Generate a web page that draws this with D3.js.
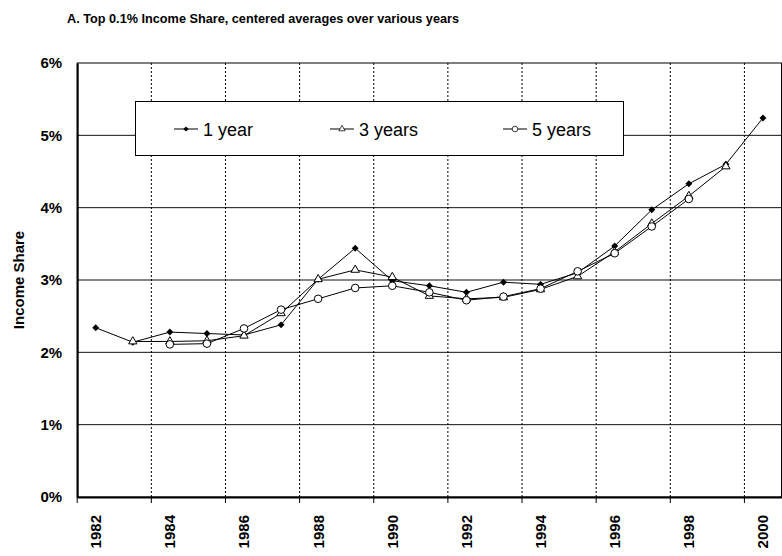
<!DOCTYPE html>
<html>
<head>
<meta charset="utf-8">
<script src="https://cdn.jsdelivr.net/npm/d3@7"></script>
<style>
  body { margin: 0; background: #fff; }
  svg { display: block; font-family: "Liberation Sans", Arial, sans-serif; }
</style>
</head>
<body>
<script>
// chart data
const years = [1982, 1983, 1984, 1985, 1986, 1987, 1988, 1989, 1990, 1991,
               1992, 1993, 1994, 1995, 1996, 1997, 1998, 1999, 2000];
const oneYear = [2.34, 2.14, 2.28, 2.26, 2.24, 2.38, 3.01, 3.44, 2.99, 2.92,
                 2.83, 2.97, 2.94, 3.10, 3.47, 3.97, 4.33, 4.60, 5.24];
const threeYears = [null, 2.15, 2.15, 2.16, 2.23, 2.54, 3.01, 3.14, 3.04, 2.78,
                    2.74, 2.76, 2.87, 3.05, 3.39, 3.78, 4.16, 4.57, null];
const fiveYears = [null, null, 2.11, 2.12, 2.33, 2.59, 2.74, 2.89, 2.92, 2.83,
                   2.72, 2.77, 2.88, 3.12, 3.37, 3.74, 4.12, null, null];
const seriesNames = ["1 year", "3 years", "5 years"];
const yTicks = [0, 1, 2, 3, 4, 5, 6];
const xLabelYears = [1982, 1984, 1986, 1988, 1990, 1992, 1994, 1996, 1998, 2000];
const title = "A. Top 0.1% Income Share, centered averages over various years";
const yTitle = "Income Share";

const width = 782, height = 556;
const margin = {top: 63, right: 0.5, bottom: 59, left: 77.2};

const svg = d3.select("body").append("svg")
    .attr("width", width)
    .attr("height", height);

const x = d3.scaleBand()
    .domain(years)
    .range([margin.left, width - margin.right])
    .padding(0);

const y = d3.scaleLinear()
    .domain([0, 6])
    .range([height - margin.bottom, margin.top]);

const cx = d => x(d) + x.bandwidth() / 2;

// horizontal grid
svg.append("g")
    .selectAll("line")
    .data(yTicks.filter(t => t > 0 && t < 6))
    .enter().append("line")
    .attr("x1", margin.left)
    .attr("x2", width - margin.right)
    .attr("y1", d => y(d))
    .attr("y2", d => y(d))
    .attr("stroke", "#111")
    .attr("stroke-width", 1);

// dotted vertical grid, between every two categories
const boundaries = xLabelYears.slice(1);
svg.append("g")
    .selectAll("line")
    .data(boundaries)
    .enter().append("line")
    .attr("x1", d => x(d))
    .attr("x2", d => x(d))
    .attr("y1", y(6))
    .attr("y2", y(0))
    .attr("stroke", "#000")
    .attr("stroke-width", 1)
    .attr("stroke-dasharray", "2,2");

// plot border
svg.append("rect")
    .attr("x", margin.left)
    .attr("y", y(6))
    .attr("width", width - margin.right - margin.left)
    .attr("height", y(0) - y(6))
    .attr("fill", "none")
    .attr("stroke", "#000")
    .attr("stroke-width", 1);

// x axis
const xAxis = svg.append("g")
    .attr("transform", `translate(0,${y(0)})`)
    .call(d3.axisBottom(x).tickValues(xLabelYears).tickSize(0).tickSizeOuter(0));
xAxis.select(".domain").attr("stroke", "#000").attr("stroke-width", 2);
xAxis.selectAll("text")
    .attr("transform", "rotate(-90)")
    .attr("text-anchor", "end")
    .attr("x", -18)
    .attr("y", 0)
    .attr("dy", "0.36em")
    .style("font-size", "15px")
    .style("font-weight", "bold")
    .style("font-family", "Liberation Sans, Arial, sans-serif")
    .attr("fill", "#000");

svg.append("g")
    .selectAll("line")
    .data([years[0]].concat(boundaries))
    .enter().append("line")
    .attr("x1", d => x(d))
    .attr("x2", d => x(d))
    .attr("y1", y(0))
    .attr("y2", y(0) + 6)
    .attr("stroke", "#000")
    .attr("stroke-width", 1);

// y axis
const yAxis = svg.append("g")
    .attr("transform", `translate(${margin.left},0)`)
    .call(d3.axisLeft(y).tickValues(yTicks).tickFormat(d => d + "%").tickSize(0).tickPadding(15));
yAxis.select(".domain").attr("stroke", "#000").attr("stroke-width", 2);
yAxis.selectAll("text")
    .style("font-size", "15px")
    .style("font-weight", "bold")
    .style("font-family", "Liberation Sans, Arial, sans-serif")
    .attr("fill", "#000");

svg.append("text")
    .attr("transform", `translate(19,${(y(0) + y(6)) / 2}) rotate(-90)`)
    .attr("text-anchor", "middle")
    .attr("dy", "0.36em")
    .style("font-size", "15px")
    .style("font-weight", "bold")
    .text(yTitle);

svg.append("text")
    .attr("x", 67)
    .attr("y", 23)
    .attr("textLength", 392)
    .attr("lengthAdjust", "spacingAndGlyphs")
    .style("font-size", "13.5px")
    .style("font-weight", "bold")
    .text(title);

// series
const series = [
  {name: seriesNames[0], values: oneYear, marker: "diamond"},
  {name: seriesNames[1], values: threeYears, marker: "triangle"},
  {name: seriesNames[2], values: fiveYears, marker: "circle"}
];

function drawMarker(g, kind) {
  if (kind === "diamond") {
    g.append("path")
        .attr("d", d3.symbol().type(d3.symbolSquare).size(24)())
        .attr("transform", "rotate(45)")
        .attr("fill", "#000");
  } else if (kind === "triangle") {
    g.append("path")
        .attr("d", d3.symbol().type(d3.symbolTriangle).size(30)())
        .attr("fill", "#fff")
        .attr("stroke", "#000")
        .attr("stroke-width", 1);
  } else {
    g.append("circle")
        .attr("r", 3.8)
        .attr("fill", "#fff")
        .attr("stroke", "#000")
        .attr("stroke-width", 1);
  }
}

const line = d3.line()
    .defined(d => d.v != null)
    .x(d => cx(d.year))
    .y(d => y(d.v));

series.forEach(s => {
  const pts = years.map((yr, i) => ({year: yr, v: s.values[i]}));
  svg.append("path")
      .datum(pts)
      .attr("fill", "none")
      .attr("stroke", "#000")
      .attr("stroke-width", 1)
      .attr("d", line);

  svg.append("g")
      .selectAll("g")
      .data(pts.filter(d => d.v != null))
      .enter().append("g")
      .attr("transform", d => `translate(${cx(d.year)},${y(d.v)})`)
      .each(function() { drawMarker(d3.select(this), s.marker); });
});

// legend
const legendX = [174, 330, 503];
const legend = svg.append("g");
legend.append("rect")
    .attr("x", 135.5)
    .attr("y", 101.5)
    .attr("width", 488)
    .attr("height", 54)
    .attr("fill", "#fff")
    .attr("stroke", "#000")
    .attr("stroke-width", 1);

series.forEach((s, i) => {
  const item = legend.append("g").attr("transform", `translate(${legendX[i]},129)`);
  item.append("line")
      .attr("x1", 0).attr("x2", 24)
      .attr("stroke", "#000").attr("stroke-width", 1);
  const m = item.append("g").attr("transform", "translate(12,0) scale(0.75)");
  drawMarker(m, s.marker);
  item.append("text")
      .attr("x", 29)
      .attr("y", 6.5)
      .style("font-size", "18px")
      .text(s.name);
});
</script>
</body>
</html>
